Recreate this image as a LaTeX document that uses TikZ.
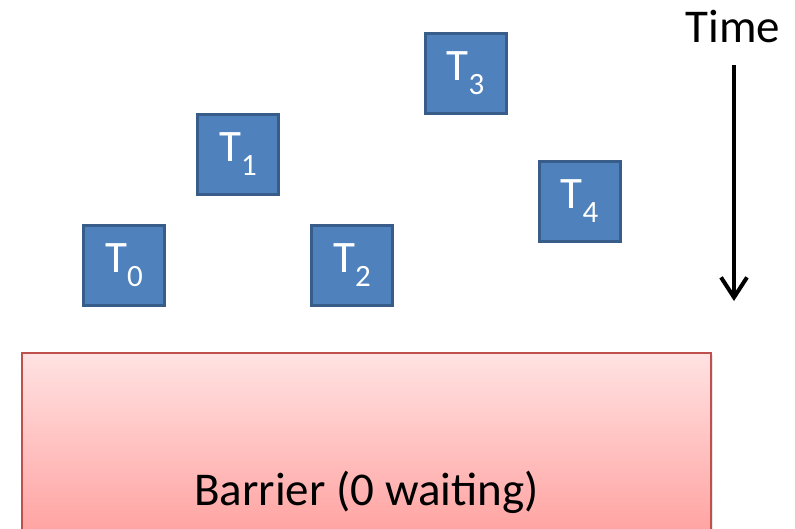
\documentclass[tikz,border=0pt]{standalone}
\usepackage{fontspec}
\setmainfont{Carlito}
\usetikzlibrary{arrows.meta,shadows}
\definecolor{boxfill}{HTML}{4F81BD}
\definecolor{boxline}{HTML}{385D8A}
\definecolor{barline}{HTML}{C0504D}
\definecolor{bartop}{HTML}{FFE2E2}
\definecolor{barbot}{HTML}{FFA19F}
\tikzset{
  tbox/.style={draw=boxline, line width=3pt, fill=boxfill, minimum width=81pt, minimum height=80pt,
    inner sep=0pt, text=white, font=\fontsize{45}{45}\selectfont,
    drop shadow={shadow xshift=1.5pt, shadow yshift=-1.5pt, opacity=0.25}},
  barrier/.style={draw=barline, line width=2.5pt, top color=bartop, bottom color=barbot,
    drop shadow={shadow xshift=2pt, shadow yshift=-2pt, opacity=0.2}},
  bigtext/.style={font=\fontsize{47}{47}\selectfont, text=black, inner sep=0pt},
}
\newcommand{\tlab}[1]{T\raisebox{-14pt}{\fontsize{31}{31}\selectfont #1}}
\begin{document}
\begin{tikzpicture}[x=1pt,y=-1pt]
\useasboundingbox (0,0) rectangle (795,528);
\node[tbox] (t0) at (124,265.5) {\tlab{0}};
\node[tbox] (t1) at (238,154) {\tlab{1}};
\node[tbox] (t2) at (352,265.5) {\tlab{2}};
\node[tbox] (t3) at (465.5,73.5) {\tlab{3}};
\node[tbox] (t4) at (579.5,201.5) {\tlab{4}};
\path[barrier] (22,353) rectangle (711,540);
\node[bigtext, anchor=base] (bar) at (366.5,505) {Barrier (0 waiting)};
\node[bigtext, anchor=base] (time) at (733,42) {Time};
\coordinate (a1) at (734,65);
\coordinate (a2) at (734,301);
\draw[line width=4pt, -{Straight Barb[length=20pt,width=26pt,line width=4pt]}] (a1) -- (a2);
\end{tikzpicture}
\end{document}
